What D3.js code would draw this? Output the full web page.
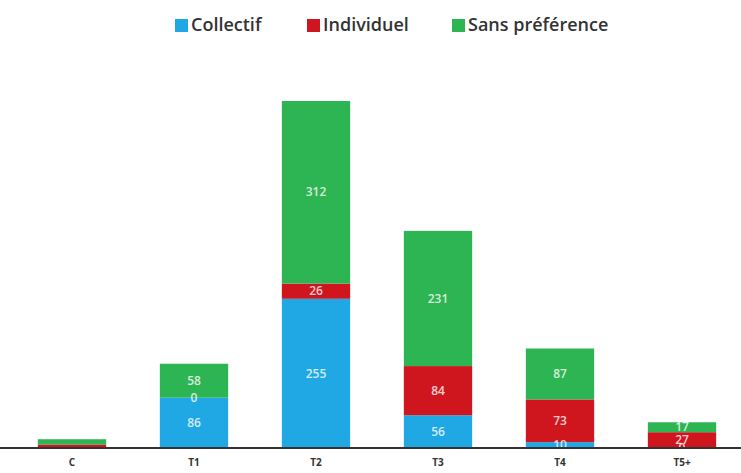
<!DOCTYPE html>
<html><head><meta charset="utf-8">
<script src="https://cdn.jsdelivr.net/npm/d3@7"></script>
<style>body{margin:0;background:#fff}</style></head>
<body><svg id="c" width="741" height="473"></svg>
<script>
const categories = ["C","T1","T2","T3","T4","T5+"];
const collectif = [0,86,255,56,10,0];
const individuel = [6,0,26,84,73,27];
const sansPreference = [9,58,312,231,87,17];
const seriesNames = ["Collectif","Individuel","Sans préférence"];
const colors = ["#1fa8e3","#cf161e","#2db453"];

const svg = d3.select("#c");
const data = categories.map((c,i)=>({cat:c, Collectif:collectif[i], Individuel:individuel[i], "Sans préférence":sansPreference[i]}));
const stack = d3.stack().keys(seriesNames)(data);
const x = d3.scaleBand().domain(categories).range([11,743]).paddingInner(0.44).paddingOuter(0.22);
const y = d3.scaleLinear().domain([0,593]).range([448,101]);

const g = svg.append("g");
stack.forEach((s,si)=>{
  g.selectAll(null).data(s).enter().append("rect")
    .attr("x",d=>x(d.data.cat)).attr("width",x.bandwidth())
    .attr("y",d=>y(d[1])).attr("height",d=>y(d[0])-y(d[1]))
    .attr("fill",colors[si]);
});
stack.forEach((s,si)=>{
  g.selectAll(null).data(s.filter(d=>d.data.cat!=="C")).enter().append("text")
    .attr("x",d=>x(d.data.cat)+x.bandwidth()/2)
    .attr("y",d=>(y(d[0])+y(d[1]))/2)
    .attr("dy","0.35em").attr("text-anchor","middle")
    .attr("font-family","Open Sans, sans-serif").attr("font-size",12).attr("font-weight",600)
    .attr("fill","#fff").attr("fill-opacity",0.8)
    .text(d=>d[1]-d[0]);
});
svg.append("line").attr("x1",0).attr("x2",741).attr("y1",448).attr("y2",448).attr("stroke","#333").attr("stroke-width",2);
const xAxis = d3.axisBottom(x).tickSize(0).tickPadding(11);
const ax = svg.append("g").attr("transform","translate(0,448)").call(xAxis);
ax.select(".domain").remove();
ax.selectAll("text").attr("font-family","Open Sans, sans-serif").attr("font-size",10).attr("font-weight","bold").attr("fill","#333");

const legX = [175,307,452];
seriesNames.forEach((n,i)=>{
  svg.append("rect").attr("x",legX[i]).attr("y",19).attr("width",13).attr("height",13).attr("fill",colors[i]);
  svg.append("text").attr("x",legX[i]+16).attr("y",25).attr("dy","0.35em")
    .attr("font-family","Open Sans, sans-serif").attr("font-size",18).attr("font-weight",600).attr("fill","#333").text(n);
});
</script></body></html>
